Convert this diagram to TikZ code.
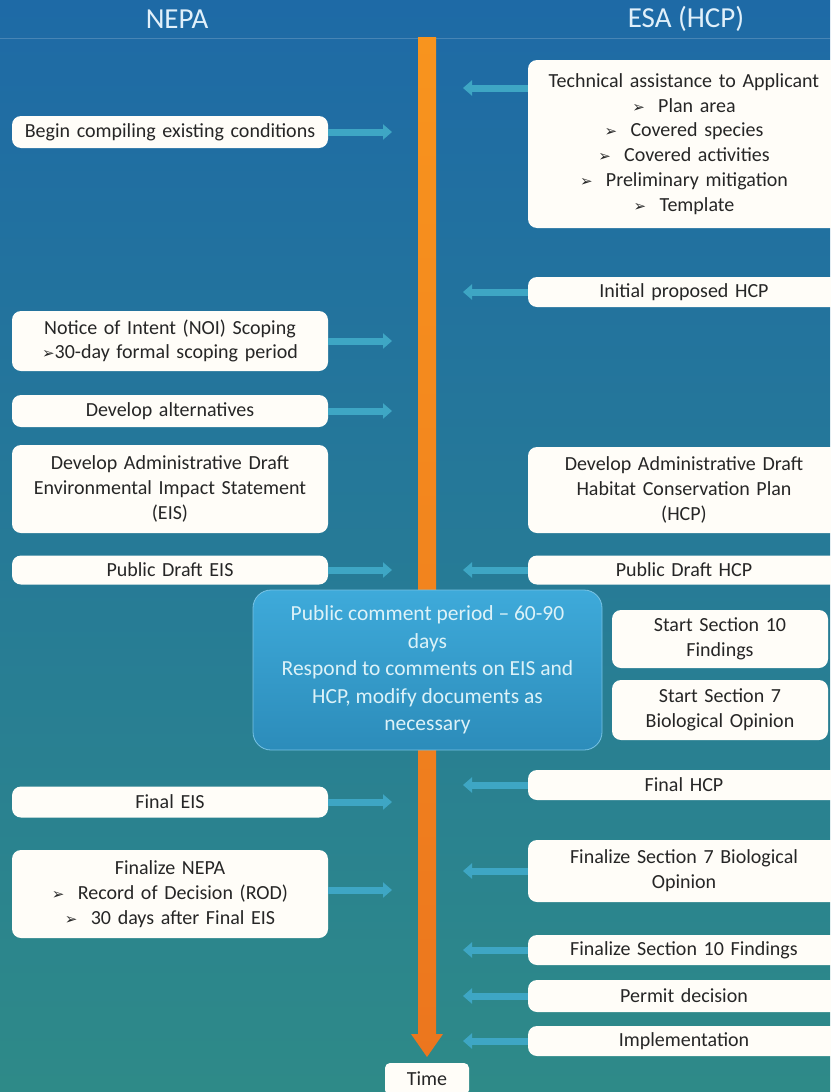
\documentclass[tikz,border=0pt]{standalone}
\usepackage{fontspec}
\setmainfont{Carlito}
\newfontfamily\dv{DejaVu Sans}
\usetikzlibrary{arrows.meta}
\definecolor{bgtop}{RGB}{30,106,166}
\definecolor{bgbot}{RGB}{46,138,136}
\definecolor{boxfill}{RGB}{255,253,248}
\definecolor{txt}{RGB}{38,38,38}
\definecolor{conncol}{RGB}{62,166,196}
\definecolor{ortop}{RGB}{248,148,30}
\definecolor{orbot}{RGB}{236,118,30}
\definecolor{pctop}{RGB}{62,170,218}
\definecolor{pcbot}{RGB}{44,140,186}
\definecolor{pctext}{RGB}{220,242,248}
\definecolor{hdtext}{RGB}{225,240,250}
\newcommand\bul{{\dv\fontsize{15}{15}\selectfont ➢}}
\begin{document}
\begin{tikzpicture}[x=1pt,y=-1pt,
  box/.style={fill=boxfill, rounded corners=9pt, align=center, text=txt,
    font=\fontsize{20}{24.8}\selectfont, inner sep=2pt},
  lbox/.style={box, minimum width=316, text width=312},
  rbox/.style={box, minimum width=312, text width=300},
  sbox/.style={box, minimum width=216, text width=210},
  conn/.style={draw=conncol, line width=7pt, -{Triangle[width=15pt,length=9pt]}},
  head/.style={text=hdtext, font=\fontsize{29}{32}\selectfont}]
\useasboundingbox (0,0) rectangle (830,1092);
\shade[top color=bgtop, bottom color=bgbot] (0,0) rectangle (830,1092);
\draw[white, opacity=0.18, line width=1pt] (0,38) -- (830,38);

% headers
\node[head] (nepa) at (177,19) {NEPA};
\node[head] (esa) at (686,19) {ESA (HCP)};

% timeline arrow
\shade[top color=ortop, bottom color=orbot]
  (418,37) -- (436,37) -- (436,1034) -- (443,1034) -- (427,1057) -- (411,1034) -- (418,1034) -- cycle;
\node[box, rounded corners=5pt, minimum width=84, minimum height=32] (time) at (427,1079) {Time};

% left column
\node[lbox, minimum height=32] (l1) at (170,132) {Begin compiling existing conditions};
\node[lbox, minimum height=60] (l2) at (170,341) {Notice of Intent (NOI) Scoping\\\bul30-day formal scoping period};
\node[lbox, minimum height=32] (l3) at (170,411) {Develop alternatives};
\node[lbox, minimum height=88] (l4) at (170,489) {Develop Administrative Draft\\Environmental Impact Statement\\(EIS)};
\node[lbox, minimum height=29] (l5) at (170,570) {Public Draft EIS};
\node[lbox, minimum height=31] (l6) at (170,802) {Final EIS};
\node[lbox, minimum height=88] (l7) at (170,894) {Finalize NEPA\\\bul\ \ Record of Decision (ROD)\\\bul\ \ 30 days after Final EIS};

% right column
\node[rbox, minimum height=168] (r1) at (684,144) {Technical assistance to Applicant\\\bul\ \ Plan area\\\bul\ \ Covered species\\\bul\ \ Covered activities\\\bul\ \ Preliminary mitigation\\\bul\ \ Template};
\node[rbox, minimum height=30] (r2) at (684,292) {Initial proposed HCP};
\node[rbox, minimum height=86] (r3) at (684,490) {Develop Administrative Draft\\Habitat Conservation Plan\\(HCP)};
\node[rbox, minimum height=29] (r4) at (684,570) {Public Draft HCP};
\node[sbox, minimum height=58] (r5) at (720,639) {Start Section 10\\Findings};
\node[sbox, minimum height=60] (r6) at (720,710) {Start Section 7\\Biological Opinion};
\node[rbox, minimum height=30] (r7) at (684,785) {Final HCP};
\node[rbox, minimum height=62] (r8) at (684,871) {Finalize Section 7 Biological\\Opinion};
\node[rbox, minimum height=30] (r9) at (684,950) {Finalize Section 10 Findings};
\node[rbox, minimum height=32] (r10) at (684,996) {Permit decision};
\node[rbox, minimum height=30] (r11) at (684,1041) {Implementation};

% public comment box
\node[rounded corners=18pt, top color=pctop, bottom color=pcbot, draw=pctop!70!white, line width=0.8pt,
  minimum width=349, minimum height=160, align=center, text=pctext, inner sep=2pt,
  font=\fontsize{21.5}{27.5}\selectfont] (pc) at (427.5,670)
  {Public comment period -- 60-90\\days\\Respond to comments on EIS and\\HCP, modify documents as\\necessary};

% connector ends
\coordinate (l1e) at (392,132);
\coordinate (l2e) at (392,341);
\coordinate (l3e) at (392,411);
\coordinate (l5e) at (392,570);
\coordinate (l6e) at (392,802);
\coordinate (l7e) at (392,890);
\coordinate (r1e) at (463,88);
\coordinate (r2e) at (463,292);
\coordinate (r4e) at (463,570);
\coordinate (r7e) at (463,785);
\coordinate (r8e) at (463,871);
\coordinate (r9e) at (463,950);
\coordinate (r10e) at (463,996);
\coordinate (r11e) at (463,1041);

\draw[conn] (l1.east) -- (l1e);
\draw[conn] (l2.east) -- (l2e);
\draw[conn] (l3.east) -- (l3e);
\draw[conn] (l5.east) -- (l5e);
\draw[conn] (l6.east) -- (l6e);
\draw[conn] (l7.east |- l7e) -- (l7e);
\draw[conn] (r1.west |- r1e) -- (r1e);
\draw[conn] (r2.west) -- (r2e);
\draw[conn] (r4.west) -- (r4e);
\draw[conn] (r7.west) -- (r7e);
\draw[conn] (r8.west) -- (r8e);
\draw[conn] (r9.west) -- (r9e);
\draw[conn] (r10.west) -- (r10e);
\draw[conn] (r11.west) -- (r11e);
\end{tikzpicture}
\end{document}
